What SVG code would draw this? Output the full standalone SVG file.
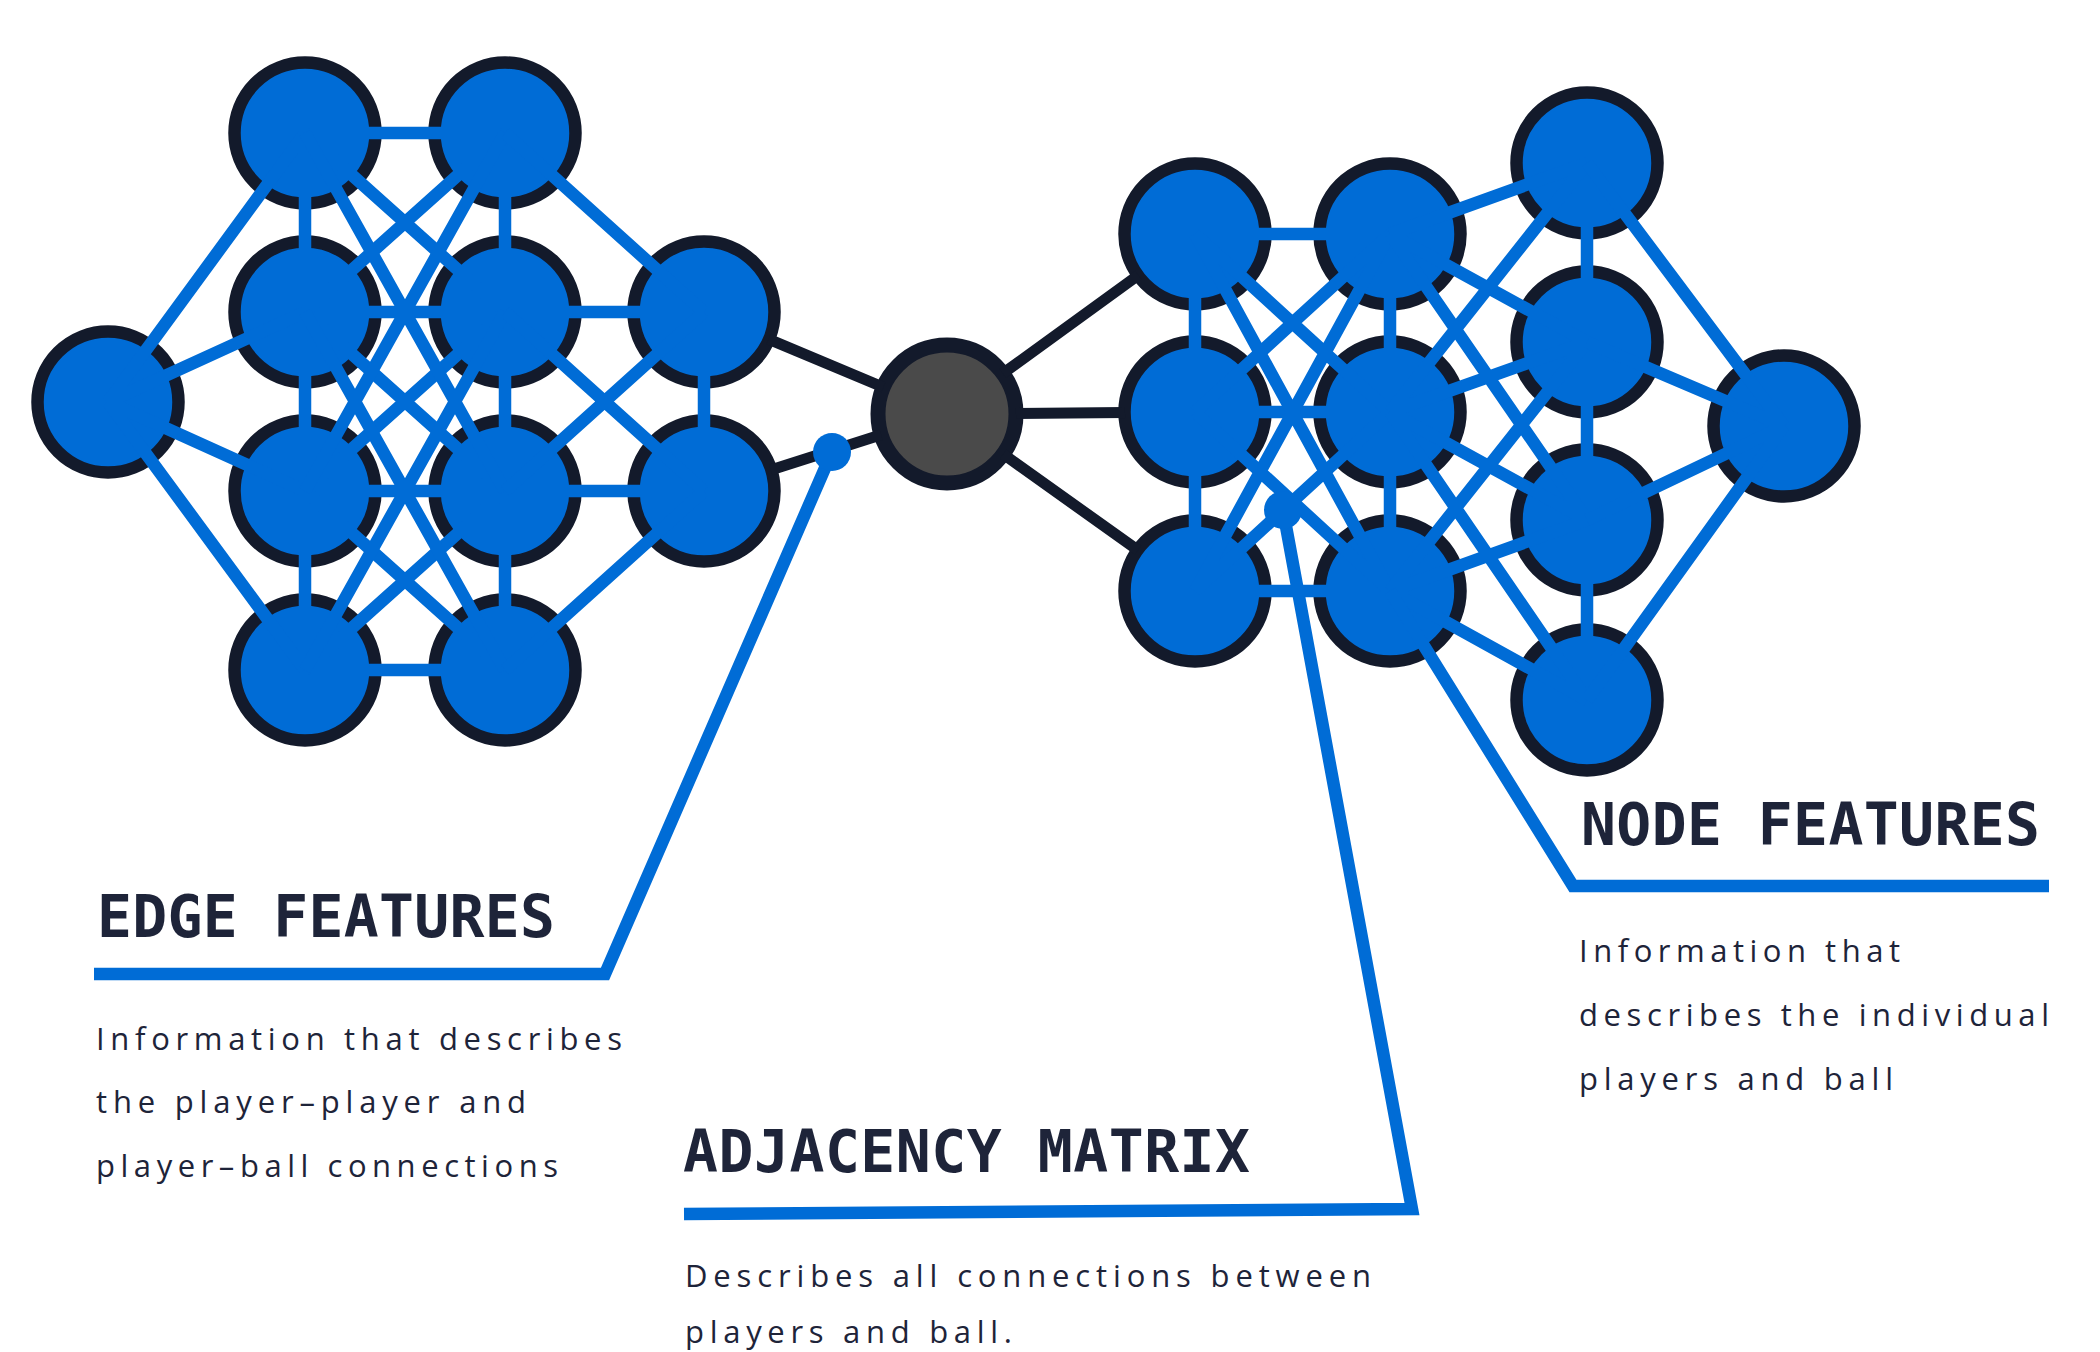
<svg xmlns="http://www.w3.org/2000/svg" width="2100" height="1352" viewBox="0 0 2100 1352">
<style>
.n circle{fill:#006cd6;stroke:#131a2b;stroke-width:12.5}
#hub circle{fill:#4a4a4a;stroke:#131a2b;stroke-width:15}
.b{stroke:#006cd6;stroke-width:12.5;fill:none}
.k{stroke:#131a2b;stroke-width:11;fill:none}
.co{stroke:#006cd6;stroke-width:12.5;fill:none;stroke-linejoin:miter}
.dot{fill:#006cd6}
.h{font-family:"DejaVu Sans Mono","Liberation Mono",monospace;font-weight:bold;font-size:58px;fill:#1e2439}
.t{font-family:"Open Sans","Noto Sans","Liberation Sans",sans-serif;font-size:31px;fill:#1e2439}
</style>
<rect width="2100" height="1352" fill="#ffffff"/>
<g id="nodes">
<g id="L" class="n"><circle cx="108" cy="402" r="70.5"/></g>
<g id="A1" class="n"><circle cx="305" cy="133" r="70.5"/></g>
<g id="A2" class="n"><circle cx="305" cy="312" r="70.5"/></g>
<g id="A3" class="n"><circle cx="305" cy="491" r="70.5"/></g>
<g id="A4" class="n"><circle cx="305" cy="670" r="70.5"/></g>
<g id="B1" class="n"><circle cx="505" cy="133" r="70.5"/></g>
<g id="B2" class="n"><circle cx="505" cy="312" r="70.5"/></g>
<g id="B3" class="n"><circle cx="505" cy="491" r="70.5"/></g>
<g id="B4" class="n"><circle cx="505" cy="670" r="70.5"/></g>
<g id="C2" class="n"><circle cx="704" cy="312" r="70.5"/></g>
<g id="C3" class="n"><circle cx="704" cy="491" r="70.5"/></g>
<g id="hub"><circle cx="947" cy="414" r="69"/></g>
<g id="D1" class="n"><circle cx="1195" cy="234" r="70.5"/></g>
<g id="D2" class="n"><circle cx="1195" cy="412" r="70.5"/></g>
<g id="D3" class="n"><circle cx="1195" cy="591" r="70.5"/></g>
<g id="E1" class="n"><circle cx="1390" cy="234" r="70.5"/></g>
<g id="E2" class="n"><circle cx="1390" cy="412" r="70.5"/></g>
<g id="E3" class="n"><circle cx="1390" cy="591" r="70.5"/></g>
<g id="F1" class="n"><circle cx="1587" cy="163" r="70.5"/></g>
<g id="F2" class="n"><circle cx="1587" cy="342" r="70.5"/></g>
<g id="F3" class="n"><circle cx="1587" cy="520" r="70.5"/></g>
<g id="F4" class="n"><circle cx="1587" cy="700" r="70.5"/></g>
<g id="G" class="n"><circle cx="1784" cy="426" r="70.5"/></g>
</g>
<g id="connectors">
<g class="b">
<path d="M108 402L305 133M108 402L305 312M108 402L305 491M108 402L305 670"/>
<path d="M305 133V670M505 133V670M704 312V491"/>
<path d="M305 133H505M305 312H505M305 491H505M305 670H505M505 312H704M505 491H704"/>
<path d="M305 133L505 312M505 133L305 312M305 312L505 491M505 312L305 491M305 491L505 670M505 491L305 670"/>
<path d="M305 133L505 491M505 133L305 491M305 312L505 670M505 312L305 670"/>
<path d="M505 133L704 312M505 312L704 491M505 491L704 312M505 670L704 491"/>
<path d="M1195 234V591M1390 234V591M1587 163V700"/>
<path d="M1195 234H1390M1195 412H1390M1195 591H1390"/>
<path d="M1195 234L1390 412M1390 234L1195 412M1195 412L1390 591M1390 412L1195 591M1195 234L1390 591M1390 234L1195 591"/>
<path d="M1390 234L1587 163M1390 234L1587 342M1390 234L1587 520M1390 412L1587 163M1390 412L1587 342M1390 412L1587 520M1390 412L1587 700M1390 591L1587 342M1390 591L1587 520M1390 591L1587 700"/>
<path d="M1587 163L1784 426M1587 342L1784 426M1587 520L1784 426M1587 700L1784 426"/>
</g>
<g class="k">
<path d="M883.4 387.3L768.5 339.1M881.2 434.8L770.7 469.9M1002.8 373.5L1138.4 275.1M1016 413.4L1125 412.6M1003.2 454.1L1138 550.3"/>
</g>
<g id="callouts">
<polyline class="co" points="832,452 605,974 94,974"/>
<circle class="dot" cx="832" cy="452" r="19"/>
<polyline class="co" points="1283,510 1412,1209 684,1214"/>
<circle class="dot" cx="1283" cy="510" r="19"/>
<polyline class="co" points="1390,591 1573,886 2049,886"/>
</g>
</g>
<g id="labels">
<text class="h" x="97" y="937" textLength="458" lengthAdjust="spacing">EDGE FEATURES</text>
<text class="t" x="96" y="1050" textLength="526" lengthAdjust="spacing">Information that describes</text>
<text class="t" x="96" y="1113" textLength="430" lengthAdjust="spacing">the player–player and</text>
<text class="t" x="96" y="1177" textLength="462" lengthAdjust="spacing">player–ball connections</text>
<text class="h" x="683" y="1172" textLength="567" lengthAdjust="spacing">ADJACENCY MATRIX</text>
<text class="t" x="685" y="1287" textLength="686" lengthAdjust="spacing">Describes all connections between</text>
<text class="t" x="685" y="1343" textLength="327" lengthAdjust="spacing">players and ball.</text>
<text class="h" x="1581" y="845" textLength="459" lengthAdjust="spacing">NODE FEATURES</text>
<text class="t" x="1579" y="962" textLength="321" lengthAdjust="spacing">Information that</text>
<text class="t" x="1579" y="1026" textLength="470" lengthAdjust="spacing">describes the individual</text>
<text class="t" x="1579" y="1090" textLength="314" lengthAdjust="spacing">players and ball</text>
</g>
</svg>
